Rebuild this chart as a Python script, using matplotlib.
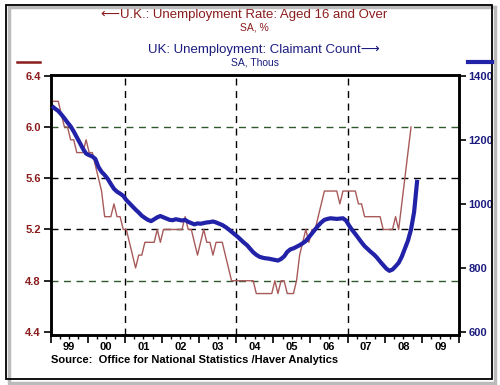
import matplotlib
matplotlib.use('Agg')

import numpy as np
import matplotlib.pyplot as plt
from matplotlib.patches import Rectangle

plt.rcParams['font.family'] = ['Liberation Sans', 'DejaVu Sans']

# U.K. unemployment rate, aged 16 and over, SA %  (monthly from Jan 1999)
rate = [6.2, 6.2, 6.2, 6.1, 6.0, 6.0, 5.9, 5.9, 5.8, 5.8, 5.8, 5.9,
        5.8, 5.8, 5.7, 5.6, 5.5, 5.3, 5.3, 5.3, 5.4, 5.3, 5.3, 5.2,
        5.2, 5.1, 5.0, 4.9, 5.0, 5.0, 5.1, 5.1, 5.1, 5.1, 5.2, 5.1,
        5.2, 5.2, 5.2, 5.2, 5.2, 5.2, 5.2, 5.3, 5.2, 5.2, 5.1, 5.0,
        5.1, 5.2, 5.1, 5.1, 5.0, 5.1, 5.1, 5.1, 5.0, 4.9, 4.8, 4.8,
        4.8, 4.8, 4.8, 4.8, 4.8, 4.8, 4.7, 4.7, 4.7, 4.7, 4.7, 4.7,
        4.8, 4.7, 4.8, 4.8, 4.7, 4.7, 4.7, 4.8, 5.0, 5.1, 5.2, 5.1,
        5.2, 5.2, 5.3, 5.4, 5.5, 5.5, 5.5, 5.5, 5.5, 5.4, 5.5, 5.5,
        5.5, 5.5, 5.5, 5.4, 5.4, 5.3, 5.3, 5.3, 5.3, 5.3, 5.3, 5.2,
        5.2, 5.2, 5.2, 5.3, 5.2, 5.4, 5.6, 5.8, 6.0]

# UK claimant count, SA thous (monthly from Jan 1999)
claimant = [1305, 1297, 1290, 1279, 1267, 1254, 1242, 1226, 1208, 1190, 1172, 1157,
            1152, 1148, 1140, 1115, 1100, 1090, 1078, 1062, 1047, 1038, 1032, 1025,
            1012, 1002, 992, 982, 973, 963, 956, 950, 946, 952, 958, 962,
            958, 954, 950, 949, 952, 950, 948, 950, 944, 940, 936, 939,
            938, 940, 942, 943, 945, 942, 938, 934, 928, 921, 913, 905,
            897, 888, 879, 871, 860, 849, 841, 835, 832, 830, 829, 827,
            825, 823, 828, 836, 850, 858, 861, 866, 871, 877, 884, 896,
            908, 920, 932, 942, 950, 953, 955, 954, 953, 954, 955, 948,
            932, 918, 906, 893, 880, 868, 859, 850, 842, 832, 820, 809,
            798, 791, 795, 805, 816, 835, 860, 885, 920, 975, 1075]

years = list(range(1999, 2010))
year_labels = ['99', '00', '01', '02', '03', '04', '05', '06', '07', '08', '09']
left_ticks = [4.4, 4.8, 5.2, 5.6, 6.0, 6.4]
right_ticks = [600, 800, 1000, 1200, 1400]

RED = '#8b1c1c'
RED_LINE = '#a85a5a'
BLUE = '#1c1c80'
BLUE_LINE = '#2222a8'
GREEN = '#2e5a2e'

t_rate = 1999 + (np.arange(len(rate)) + 0.5) / 12
t_claim = 1999 + (np.arange(len(claimant)) + 0.5) / 12

fig = plt.figure(figsize=(5, 3.85), dpi=100)
ax = fig.add_axes([0.101, 0.130, 0.817, 0.675])
ax2 = ax.twinx()

lo, hi = 4.377, 6.405
ax.set_ylim(lo, hi)
ax2.set_ylim(600 + (lo - 4.4) * 400, 600 + (hi - 4.4) * 400)
ax.set_xlim(1999, 2010)

# grid
for v, c in [(6.0, GREEN), (5.6, 'black'), (5.2, 'black'), (4.8, GREEN)]:
    ax.axhline(v, color=c, lw=1.0, ls=(0, (5, 4)), zorder=1)
for x in [2001, 2004, 2007]:
    ax.axvline(x, color='black', lw=1.0, ls=(0, (5, 4)), zorder=1)

ax.plot(t_rate, rate, color=RED_LINE, lw=1.0, zorder=3)
ax2.plot(t_claim, claimant, color=BLUE_LINE, lw=3.0, solid_capstyle='butt', zorder=3)

# ticks
ax.set_yticks(left_ticks)
ax.set_yticklabels(['%.1f' % v for v in left_ticks], color=RED, fontsize=8, fontweight='bold')
ax2.set_yticks(right_ticks)
ax2.set_yticklabels([str(v) for v in right_ticks], color=BLUE, fontsize=8, fontweight='bold')
ax.tick_params(axis='y', direction='out', length=5, width=1.2, pad=2)
ax2.tick_params(axis='y', direction='out', length=5, width=1.2, pad=2)

ax.set_xticks(years + [2010])
ax.set_xticklabels([])
minor = [y + q for y in years for q in (0.25, 0.5, 0.75)]
ax.set_xticks(minor, minor=True)
ax.set_xticklabels([year_labels[int(m) - 1999] if abs(m % 1 - 0.5) < 0.01 else '' for m in minor],
                   minor=True, fontsize=8, fontweight='bold')
ax.tick_params(axis='x', which='major', direction='out', length=6, width=1.2)
ax.tick_params(axis='x', which='minor', direction='out', length=3, width=1.0, pad=2)

for a in (ax, ax2):
    for s in a.spines.values():
        s.set_linewidth(1.8)

# titles
fig.text(0.489, 0.962, '\u27f5U.K.: Unemployment Rate: Aged 16 and Over', color=RED,
         fontsize=9.5, ha='center', va='center')
fig.text(0.508, 0.928, 'SA, %', color=RED, fontsize=7.5, ha='center', va='center')
fig.text(0.528, 0.870, 'UK: Unemployment: Claimant Count\u27f6', color=BLUE,
         fontsize=9.5, ha='center', va='center')
fig.text(0.51, 0.838, 'SA, Thous', color=BLUE, fontsize=7.5, ha='center', va='center')

# legend marks
fig.add_artist(plt.Line2D([0.034, 0.080], [0.838, 0.838], color=RED, lw=1.8))
fig.add_artist(plt.Line2D([0.936, 0.984], [0.838, 0.838], color=BLUE_LINE, lw=3.0))

fig.text(0.102, 0.064, 'Source:  Office for National Statistics /Haver Analytics',
         fontsize=8, fontweight='bold', ha='left', va='center')

# outer frame with shadow
fig.add_artist(Rectangle((0.018, 0.006), 0.972, 0.975, transform=fig.transFigure,
                         facecolor='none', edgecolor='#bbbbbb', lw=2.5, zorder=0))
fig.add_artist(Rectangle((0.012, 0.016), 0.972, 0.972, transform=fig.transFigure,
                         facecolor='none', edgecolor='black', lw=1.3))

fig.savefig('out.png', dpi=100)
